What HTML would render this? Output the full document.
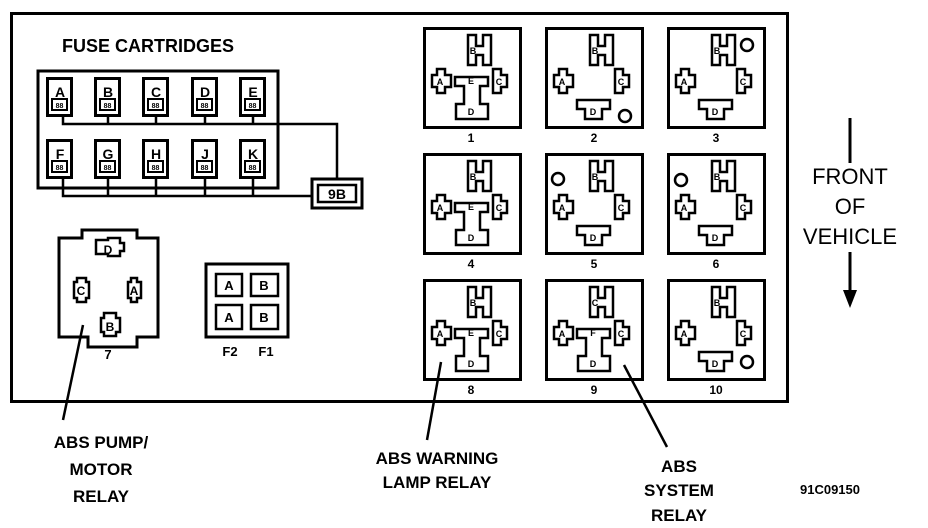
<!DOCTYPE html>
<html><head><style>
html,body{margin:0;padding:0;background:#fff;}
svg{display:block;}
text{font-family:"Liberation Sans",Arial,sans-serif;}
.b{font-weight:bold;}
</style></head><body>
<svg width="928" height="528" viewBox="0 0 928 528" xmlns="http://www.w3.org/2000/svg">
<defs>
<g id="box"><rect x="1.5" y="1.5" width="96" height="99" fill="none" stroke="#000" stroke-width="3"/></g>
<path id="H" d="M45 8 h8 v11 h7 v-11 h8 v30 h-8 v-10 h-7 v10 h-8 z" fill="none" stroke="#000" stroke-width="2.5"/>
<path id="A" d="M14 42 h8 v6 h6 v12 h-6 v6 h-8 v-6 h-5 v-12 h5 z" fill="none" stroke="#000" stroke-width="2.5"/>
<path id="C" d="M70 42 h8 v6 h6 v12 h-6 v6 h-8 z" fill="none" stroke="#000" stroke-width="2.5"/>
<path id="T" d="M32 50 h33 v9 h-8 v18 h8 v15 h-32 v-15 h8 v-18 h-9 z" fill="none" stroke="#000" stroke-width="2.5"/>
<path id="D" d="M32 73 h33 v9 h-8 v10 h-17 v-10 h-8 z" fill="none" stroke="#000" stroke-width="2.5"/>
<g id="fuse"><rect x="1.5" y="1.5" width="24" height="37" fill="none" stroke="#000" stroke-width="3"/><rect x="6" y="22" width="15" height="11" fill="none" stroke="#000" stroke-width="2"/><text x="13.5" y="31" font-size="7" text-anchor="middle" class="b">88</text></g>
</defs>
<rect x="11.5" y="13.5" width="776" height="388" fill="none" stroke="#000" stroke-width="3"/>
<text x="62" y="52" font-size="18" class="b">FUSE CARTRIDGES</text>
<rect x="38" y="71" width="240" height="117" fill="none" stroke="#000" stroke-width="3"/>
<g font-size="14" class="b" text-anchor="middle">
<use href="#fuse" x="46" y="77"/><text x="60" y="97">A</text>
<use href="#fuse" x="94" y="77"/><text x="108" y="97">B</text>
<use href="#fuse" x="142" y="77"/><text x="156" y="97">C</text>
<use href="#fuse" x="191" y="77"/><text x="205" y="97">D</text>
<use href="#fuse" x="239" y="77"/><text x="253" y="97">E</text>
<use href="#fuse" x="46" y="139"/><text x="60" y="159">F</text>
<use href="#fuse" x="94" y="139"/><text x="108" y="159">G</text>
<use href="#fuse" x="142" y="139"/><text x="156" y="159">H</text>
<use href="#fuse" x="191" y="139"/><text x="205" y="159">J</text>
<use href="#fuse" x="239" y="139"/><text x="253" y="159">K</text>
</g>
<g stroke="#000" stroke-width="2.5" fill="none">
<path d="M63 116 v8 h274 v55"/>
<path d="M108 116 v8 M156 116 v8 M205 116 v8 M253 116 v8"/>
<path d="M63 178 v18 h250"/>
<path d="M108 178 v18 M156 178 v18 M205 178 v18 M253 178 v18"/>
<rect x="312" y="179" width="50" height="29" stroke-width="3"/>
<rect x="318" y="185" width="38" height="17" stroke-width="2.5"/>
</g>
<text x="337" y="199" font-size="14" class="b" text-anchor="middle">9B</text>
<!-- relay 7 -->
<path d="M59 238 h23 v-8 h55 v8 h21 v99 h-21 v10 h-49 v-10 h-29 z" fill="none" stroke="#000" stroke-width="3"/>
<g fill="none" stroke="#000" stroke-width="2.5">
<path d="M96 240 h12 v-2 h12 v5 h4 v8 h-4 v5 h-12 v-2 h-12 z"/>
<path d="M77 278 h9 v4 h3 v16 h-3 v4 h-9 v-4 h-3 v-16 h3 z"/>
<path d="M131 278 h6 v4 h4 v16 h-4 v4 h-6 v-4 h-3 v-16 h3 z"/>
<path d="M104 313 h12 v5 h4 v14 h-4 v4 h-12 v-4 h-3 v-14 h3 z"/>
</g>
<g font-size="12" class="b" text-anchor="middle">
<text x="108" y="254">D</text><text x="81" y="295">C</text><text x="134" y="295">A</text><text x="110" y="331">B</text>
<text x="108" y="359" font-size="13">7</text>
</g>
<!-- F1 F2 -->
<rect x="206" y="264" width="82" height="73" fill="none" stroke="#000" stroke-width="3"/>
<g fill="none" stroke="#000" stroke-width="2.5">
<rect x="216" y="274" width="26" height="22"/><rect x="251" y="274" width="27" height="22"/>
<rect x="216" y="305" width="26" height="24"/><rect x="251" y="305" width="27" height="24"/>
</g>
<g font-size="13" class="b" text-anchor="middle">
<text x="229" y="290">A</text><text x="264" y="290">B</text><text x="229" y="322">A</text><text x="264" y="322">B</text>
<text x="230" y="356">F2</text><text x="266" y="356">F1</text>
</g>
<!-- relays -->
<g id="r1" transform="translate(423,27)"><use href="#box"/><use href="#H"/><use href="#A"/><use href="#C"/><use href="#T"/></g>
<g transform="translate(545,27)"><use href="#box"/><use href="#H"/><use href="#A"/><use href="#C"/><use href="#D"/><circle cx="80" cy="89" r="6" fill="none" stroke="#000" stroke-width="2.5"/></g>
<g transform="translate(667,27)"><use href="#box"/><use href="#H"/><use href="#A"/><use href="#C"/><use href="#D"/><circle cx="80" cy="18" r="6" fill="none" stroke="#000" stroke-width="2.5"/></g>
<g transform="translate(423,153)"><use href="#box"/><use href="#H"/><use href="#A"/><use href="#C"/><use href="#T"/></g>
<g transform="translate(545,153)"><use href="#box"/><use href="#H"/><use href="#A"/><use href="#C"/><use href="#D"/><circle cx="13" cy="26" r="6" fill="none" stroke="#000" stroke-width="2.5"/></g>
<g transform="translate(667,153)"><use href="#box"/><use href="#H"/><use href="#A"/><use href="#C"/><use href="#D"/><circle cx="14" cy="27" r="6" fill="none" stroke="#000" stroke-width="2.5"/></g>
<g transform="translate(423,279)"><use href="#box"/><use href="#H"/><use href="#A"/><use href="#C"/><use href="#T"/></g>
<g transform="translate(545,279)"><use href="#box"/><use href="#H"/><use href="#A"/><use href="#C"/><use href="#T"/></g>
<g transform="translate(667,279)"><use href="#box"/><use href="#H"/><use href="#A"/><use href="#C"/><use href="#D"/><circle cx="80" cy="83" r="6" fill="none" stroke="#000" stroke-width="2.5"/></g>
<g font-size="9" class="b" text-anchor="middle">
<!-- letters per relay: B, A, C, E?, D -->
<g transform="translate(423,27)"><text x="50" y="27">B</text><text x="17" y="58">A</text><text x="76" y="58">C</text><text x="48" y="57">E</text><text x="48" y="88">D</text></g>
<g transform="translate(545,27)"><text x="50" y="27">B</text><text x="17" y="58">A</text><text x="76" y="58">C</text><text x="48" y="88">D</text></g>
<g transform="translate(667,27)"><text x="50" y="27">B</text><text x="17" y="58">A</text><text x="76" y="58">C</text><text x="48" y="88">D</text></g>
<g transform="translate(423,153)"><text x="50" y="27">B</text><text x="17" y="58">A</text><text x="76" y="58">C</text><text x="48" y="57">E</text><text x="48" y="88">D</text></g>
<g transform="translate(545,153)"><text x="50" y="27">B</text><text x="17" y="58">A</text><text x="76" y="58">C</text><text x="48" y="88">D</text></g>
<g transform="translate(667,153)"><text x="50" y="27">B</text><text x="17" y="58">A</text><text x="76" y="58">C</text><text x="48" y="88">D</text></g>
<g transform="translate(423,279)"><text x="50" y="27">B</text><text x="17" y="58">A</text><text x="76" y="58">C</text><text x="48" y="57">E</text><text x="48" y="88">D</text></g>
<g transform="translate(545,279)"><text x="50" y="27">C</text><text x="17" y="58">A</text><text x="76" y="58">C</text><text x="48" y="57">F</text><text x="48" y="88">D</text></g>
<g transform="translate(667,279)"><text x="50" y="27">B</text><text x="17" y="58">A</text><text x="76" y="58">C</text><text x="48" y="88">D</text></g>
</g>
<g font-size="12" class="b" text-anchor="middle">
<text x="471" y="142">1</text><text x="594" y="142">2</text><text x="716" y="142">3</text>
<text x="471" y="268">4</text><text x="594" y="268">5</text><text x="716" y="268">6</text>
<text x="471" y="394">8</text><text x="594" y="394">9</text><text x="716" y="394">10</text>
</g>
<!-- front of vehicle -->
<g font-size="22" text-anchor="middle">
<text x="850" y="184">FRONT</text><text x="850" y="214">OF</text><text x="850" y="244">VEHICLE</text>
</g>
<g stroke="#000" stroke-width="3"><line x1="850" y1="118" x2="850" y2="163"/><line x1="850" y1="252" x2="850" y2="292"/></g>
<path d="M843 290 h14 l-7 18 z" fill="#000"/>
<!-- leaders -->
<g stroke="#000" stroke-width="2.5">
<line x1="83" y1="325" x2="63" y2="420"/>
<line x1="441" y1="362" x2="427" y2="440"/>
<line x1="624" y1="365" x2="667" y2="447"/>
</g>
<g font-size="17" class="b" text-anchor="middle">
<text x="101" y="448">ABS PUMP/</text><text x="101" y="475">MOTOR</text><text x="101" y="502">RELAY</text>
<text x="437" y="464">ABS WARNING</text><text x="437" y="488">LAMP RELAY</text>
<text x="679" y="472">ABS</text><text x="679" y="496">SYSTEM</text><text x="679" y="521">RELAY</text>
</g>
<text x="800" y="494" font-size="13" class="b">91C09150</text>
</svg>
</body></html>
